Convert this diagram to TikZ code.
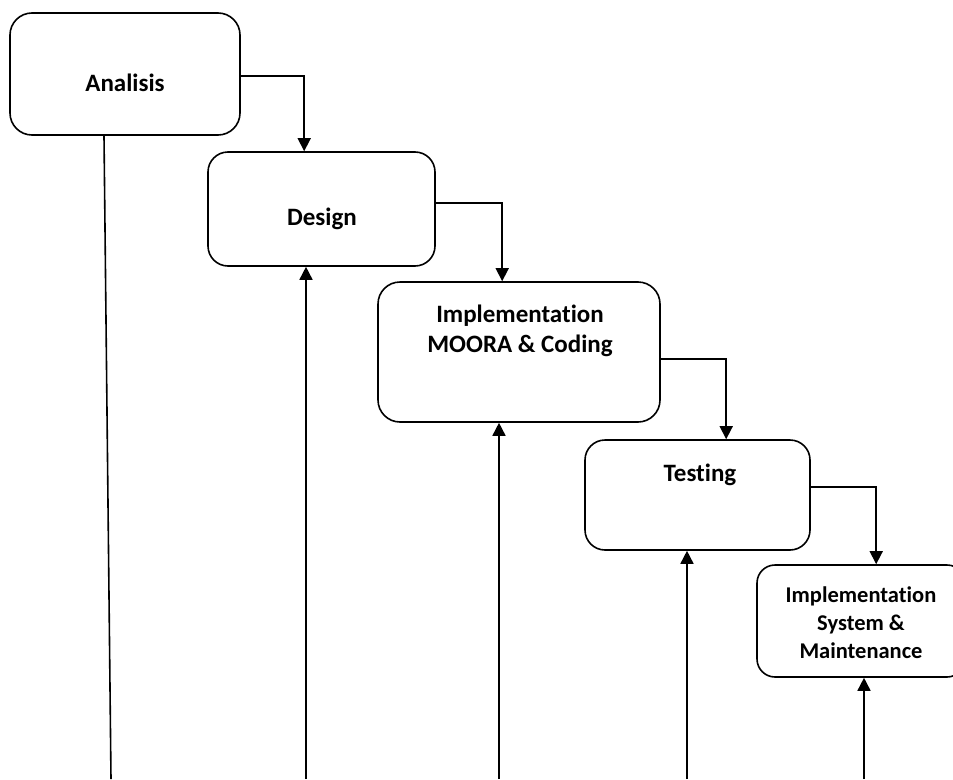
\documentclass[tikz,border=0pt]{standalone}
\usepackage{fontspec}
\setmainfont{Carlito}[Ligatures=NoCommon]
\usepackage{tikz}
\usetikzlibrary{arrows.meta,positioning,calc}

\begin{document}
\begin{tikzpicture}[
    x=1pt, y=-1pt,
    phase/.style={
      draw=black,
      line width=1.6pt,
      rounded corners=20pt,
      inner sep=0pt
    },
    phasetext/.style={
      font=\bfseries\fontsize{25}{30}\selectfont,
      align=center,
      inner sep=0pt
    },
    flow/.style={line width=1.6pt, -{Triangle[length=13pt,width=13pt]}}
  ]
    \useasboundingbox (0,0) rectangle (953,779);
    \clip (0,0) rectangle (953,779);

    % phases
    \node[phase, minimum width=230pt, minimum height=122pt, rounded corners=22pt] (ana) at (125,74) {};
    \node[phase, minimum width=227pt, minimum height=114pt] (des) at (321.5,209) {};
    \node[phase, minimum width=282pt, minimum height=140pt, rounded corners=22pt] (impl) at (519,352) {};
    \node[phase, minimum width=225pt, minimum height=110pt] (test) at (697.5,495) {};
    \node[phase, minimum width=208pt, minimum height=112pt, rounded corners=18pt] (maint) at (861,621) {};

    \node[phasetext, anchor=base] (anaText) at (125,91) {Analisis};
    \node[phasetext, anchor=base] (desText) at (322,225) {Design};
    \node[phasetext] (implText) at (520,331) {Implementation\\MOORA \& Coding};
    \node[phasetext, anchor=base] (testText) at (700,481) {Testing};
    \node[phasetext, font=\bfseries\fontsize{22.5}{28}\selectfont] (maintText) at (861,623) {Implementation\\System \&\\Maintenance};

    % forward steps
    \draw[flow] ([yshift=-2pt]ana.east) -| ([xshift=97pt]des.north west);
    \draw[flow] ([yshift=6pt]des.east) -| ([xshift=125pt]impl.north west);
    \draw[flow] ([yshift=-7pt]impl.east) -| ([xshift=142pt]test.north west);
    \draw[flow] ([yshift=8pt]test.east) -| ([xshift=120pt]maint.north west);

    % feedback from below
    \coordinate (b1) at (111,779);
    \coordinate (b2) at (306,779);
    \coordinate (b3) at (499,779);
    \coordinate (b4) at (687,779);
    \coordinate (b5) at (864,779);
    \draw[line width=1.6pt] (b1) -- ([xshift=-21pt]ana.south);
    \draw[flow] (b2) -- (b2 |- des.south);
    \draw[flow] (b3) -- (b3 |- impl.south);
    \draw[flow] (b4) -- (b4 |- test.south);
    \draw[flow] (b5) -- (b5 |- maint.south);
  \end{tikzpicture}
\end{document}
